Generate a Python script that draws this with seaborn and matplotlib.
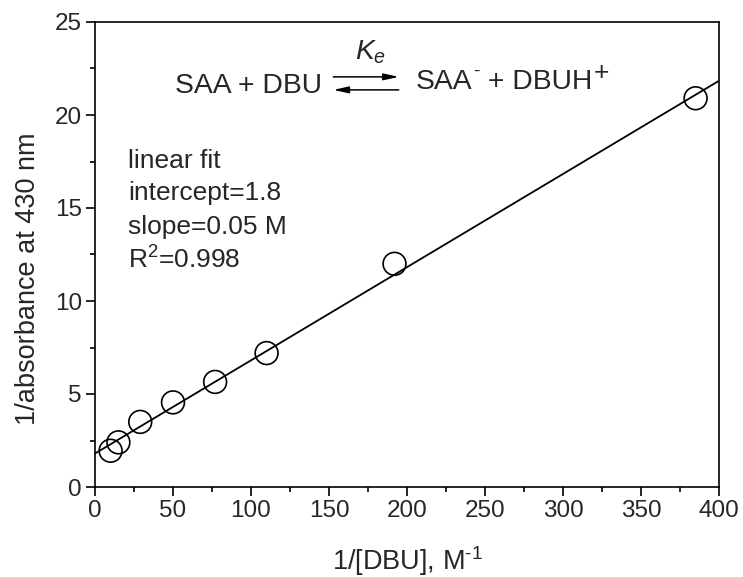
import numpy as np
import pandas as pd
import matplotlib
matplotlib.use("Agg")
import matplotlib.pyplot as plt
import seaborn as sns
from matplotlib.ticker import MultipleLocator

# Data
inv_dbu = [10, 15, 29, 50, 77, 110, 192, 385]
inv_abs = [1.95, 2.4, 3.5, 4.55, 5.65, 7.2, 12.0, 20.9]
fit_intercept = 1.8
fit_slope = 0.0501
x_ticks = [0, 50, 100, 150, 200, 250, 300, 350, 400]
y_ticks = [0, 5, 10, 15, 20, 25]
fit_lines = ["linear fit", "intercept=1.8", "slope=0.05 M", "R$^2$=0.998"]

sns.set_style("ticks")
plt.rcParams['font.family'] = ['Liberation Sans', 'DejaVu Sans']
plt.rcParams['mathtext.fontset'] = 'custom'
plt.rcParams['mathtext.rm'] = 'Liberation Sans'
plt.rcParams['mathtext.it'] = 'Liberation Sans:italic'

fig = plt.figure(figsize=(7.43, 5.77), dpi=100)
ax = fig.add_axes([95/743, 1-487/577, 624/743, 465/577])

df = pd.DataFrame({"x": inv_dbu, "y": inv_abs})
fx = np.array([0, 400])
fit_df = pd.DataFrame({"x": fx, "y": fit_intercept + fit_slope * fx})
sns.lineplot(data=fit_df, x="x", y="y", ax=ax, color="black", linewidth=1.3)
sns.scatterplot(data=df, x="x", y="y", ax=ax, s=270, facecolor="none",
                edgecolor="black", linewidth=1.2, zorder=3)

ax.set_xlim(0, 400)
ax.set_ylim(0, 25)
ax.set_xticks(x_ticks)
ax.set_yticks(y_ticks)
ax.xaxis.set_minor_locator(MultipleLocator(25))
ax.yaxis.set_minor_locator(MultipleLocator(2.5))
ax.tick_params(which='major', direction='out', length=6.5, width=1.2, labelsize=17.5,
               color='black', pad=3)
ax.tick_params(which='minor', direction='out', length=3.6, width=1.2, color='black')
for s in ax.spines.values():
    s.set_linewidth(1.2)
    s.set_color('black')
    s.set_visible(True)

ax.set_xlabel("1/[DBU], M$^{\u2010 1}$", fontsize=19.5, va='top')
ax.xaxis.set_label_coords(0.5, -(544-487)/465)
ax.set_ylabel("1/absorbance at 430 nm", fontsize=19.5, va='bottom')
ax.yaxis.set_label_coords((41-95)/624, (487-279)/465)

# Equation
eq_fs = 20.3
left_base = 21.17
right_base = 21.42
ax.text(51.4, left_base, "SAA + DBU", fontsize=eq_fs, ha='left', va='baseline')
ap = dict(arrowstyle='-|>,head_length=0.9,head_width=0.2', color='black', lw=1.1,
          mutation_scale=10, shrinkA=0, shrinkB=0)
ax.annotate("", xy=(194.7, 22.05), xytext=(152.8, 22.05), arrowprops=ap)
ax.annotate("", xy=(152.8, 21.35), xytext=(194.7, 21.35), arrowprops=ap)
ax.text(176.6, 23.0, "$K_e$", fontsize=eq_fs, ha='center', va='baseline')

t1 = ax.text(205.5, right_base, "SAA", fontsize=eq_fs, ha='left', va='baseline')
s1 = ax.annotate("-", xy=(1, right_base), xycoords=(t1, 'data'), xytext=(1, 9),
                 textcoords='offset points', fontsize=14, ha='left', va='baseline')
t2 = ax.annotate(" + DBUH", xy=(1, right_base), xycoords=(s1, 'data'), xytext=(0, 0),
                 textcoords='offset points', fontsize=eq_fs, ha='left', va='baseline')
ax.annotate("+", xy=(1, right_base), xycoords=(t2, 'data'), xytext=(1, 6),
            textcoords='offset points', fontsize=19, ha='left', va='baseline')

ys = [17.17, 15.41, 13.58, 11.75]
for t, yv in zip(fit_lines, ys):
    ax.text(21.2, yv, t, fontsize=19, ha='left', va='baseline')

fig.savefig("out.png", dpi=100)
